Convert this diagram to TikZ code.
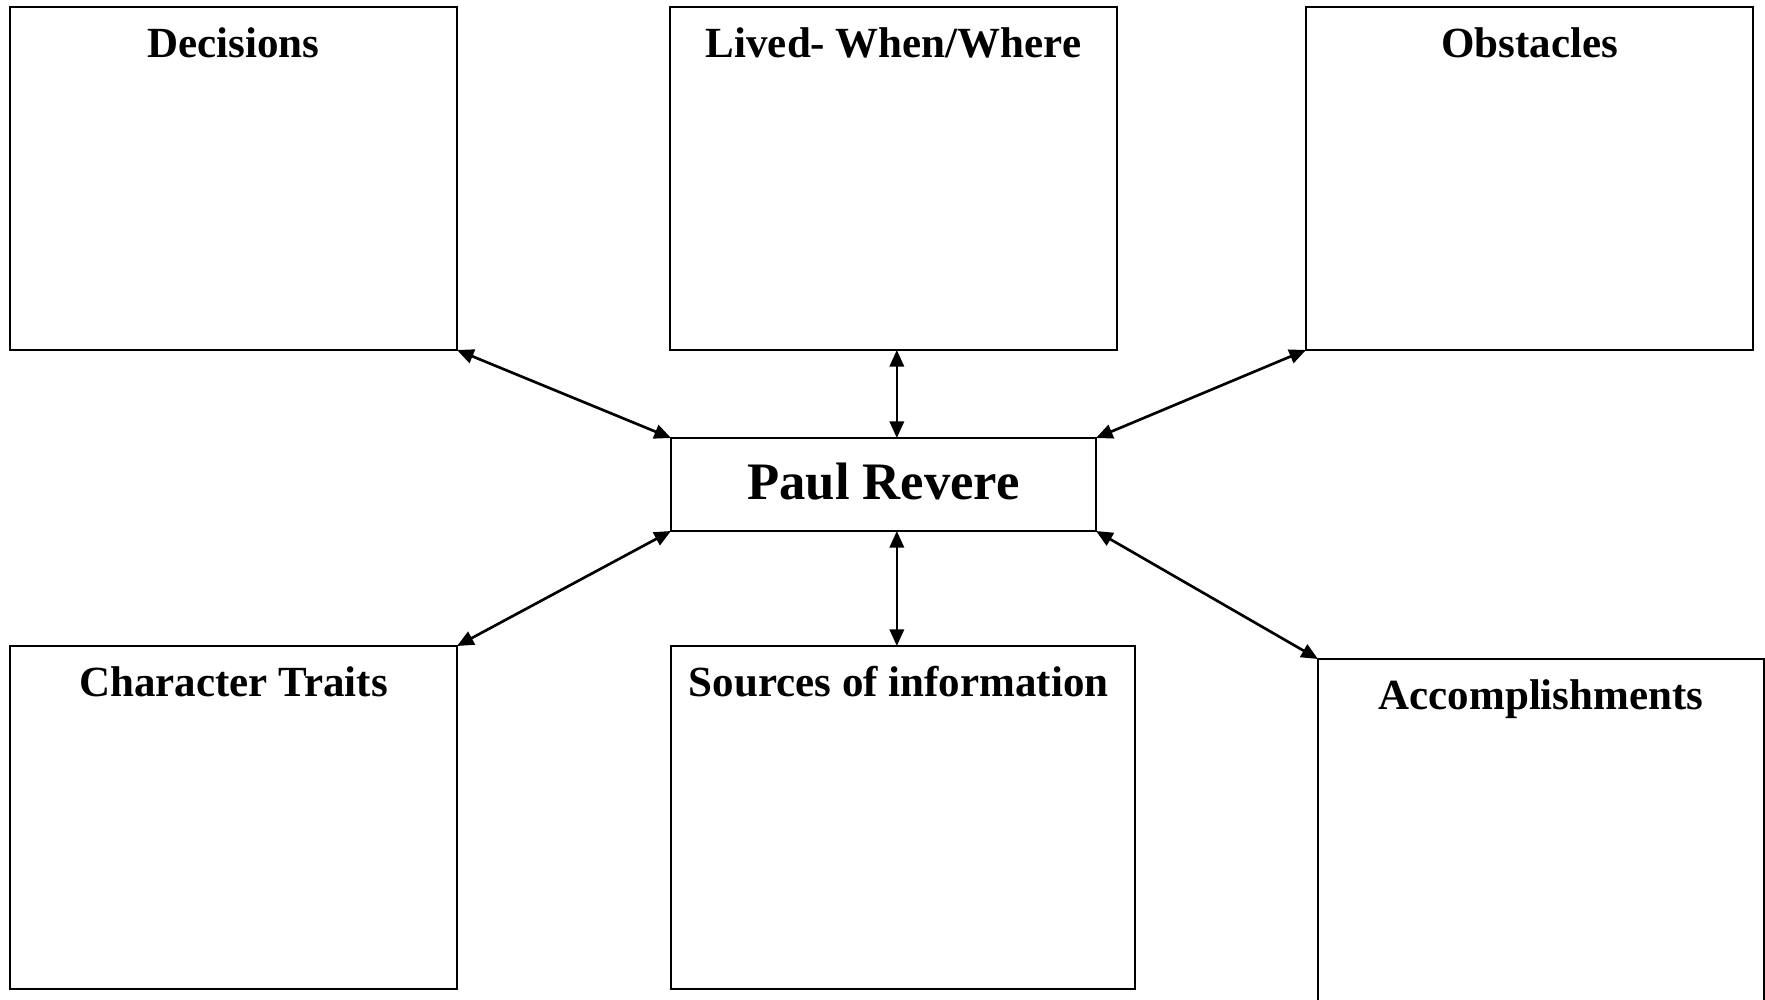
\documentclass[tikz,border=0pt]{standalone}
\usepackage{fontspec}
\setmainfont{Liberation Serif}
\usetikzlibrary{positioning,arrows.meta}

\begin{document}
\begin{tikzpicture}[x=0.3pt,y=-0.3pt]
                    \tikzstyle{every node}=[inner sep=0,outer sep=0]
                    \tikzstyle{box}=[draw,rectangle,line width=0.6pt,anchor=north west,minimum width=134.1pt,minimum height=102.9pt]
                    \tikzstyle{title}=[anchor=base,font=\fontsize{12.9}{15}\selectfont\bfseries]
                    \tikzstyle{link}=[<->,>={Triangle[length=5pt,width=4.3pt]},line width=0.8pt]
                    {
                        \clip (0,0) rectangle (1765,1000);
                        \fill[white] (0,0) rectangle (1765,1000);

                        \node[box] (decide) at (10,7) {};
                        \node[box] (lived) at (670,7) {};
                        \node[box] (obst) at (1306,7) {};
                        \node[box,minimum width=127.5pt,minimum height=27.9pt] (paul) at (671,438) {};
                        \node[box] (traits) at (10,646) {};
                        \node[box,minimum width=139.2pt] (sources) at (671,646) {};
                        \node[box,minimum width=133.8pt,minimum height=110pt] (accomp) at (1318,659) {};

                        \node[title] (tdecide) at ([yshift=-15.3pt]decide.north) {Decisions};
                        \node[title] (tlived) at ([yshift=-15.3pt]lived.north) {Lived- When/Where};
                        \node[title] (tobst) at ([yshift=-15.3pt]obst.north) {Obstacles};
                        \node[title] (ttraits) at ([yshift=-15.3pt]traits.north) {Character Traits};
                        \node[title] (tsources) at ([yshift=-15.3pt,xshift=-1.3pt]sources.north) {Sources of information};
                        \node[title] (taccomp) at ([yshift=-15.3pt]accomp.north) {Accomplishments};
                        \node[anchor=base,font=\fontsize{15.8}{19}\selectfont\bfseries] (tpaul) at ([yshift=-4.6pt]paul.center) {Paul Revere};

                        \draw[link] (decide.south east) -- (paul.north west);
                        \draw[link] ([xshift=4pt]paul.north |- lived.south) -- ([xshift=4pt]paul.north);
                        \draw[link] (obst.south west) -- (paul.north east);
                        \draw[link] (traits.north east) -- (paul.south west);
                        \draw[link] ([xshift=4pt]paul.south) -- ([xshift=4pt]paul.south |- sources.north);
                        \draw[link] (paul.south east) -- (accomp.north west);
                    }
\end{tikzpicture}
\end{document}
